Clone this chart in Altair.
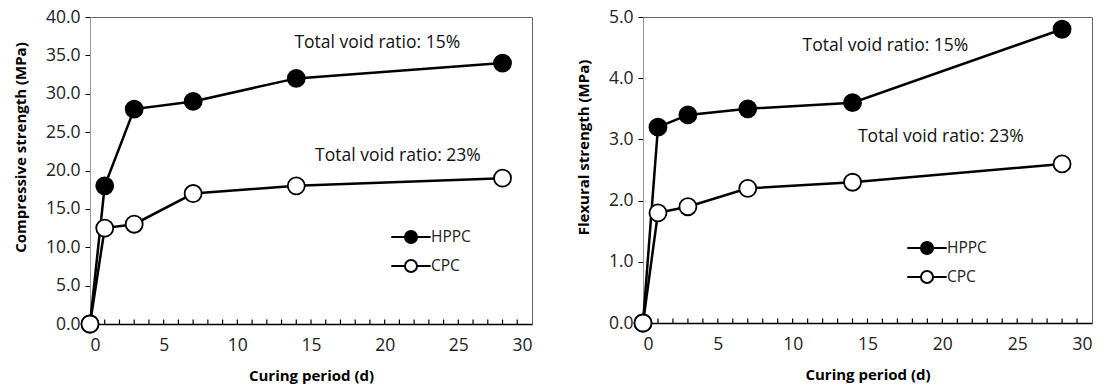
import altair as alt
import pandas as pd

# ---- data ----
days = [0, 1, 3, 7, 14, 28]
series = ["HPPC", "CPC"]
comp_hppc = [0.0, 18.0, 28.0, 29.0, 32.0, 34.0]
comp_cpc = [0.0, 12.5, 13.0, 17.0, 18.0, 19.0]
flex_hppc = [0.0, 3.2, 3.4, 3.5, 3.6, 4.8]
flex_cpc = [0.0, 1.8, 1.9, 2.2, 2.3, 2.6]

comp_notes = ["Total void ratio: 15%", "Total void ratio: 23%"]
comp_note_x = [19.5, 20.9]
comp_note_y = [36.6, 21.9]
flex_notes = ["Total void ratio: 15%", "Total void ratio: 23%"]
flex_note_x = [16.2, 19.9]
flex_note_y = [4.53, 3.04]

x_ticks = [0, 5, 10, 15, 20, 25, 30]
x_minor = list(range(1, 30))
comp_ticks = [0, 5, 10, 15, 20, 25, 30, 35, 40]
flex_ticks = [0, 1, 2, 3, 4, 5]

FONT = "Open Sans"
MINOR_LEN_PX = 4.5
LEGEND_PATH = ("M-1.8,0L-0.55,0M0.55,0L1.8,0"
               "M-0.55,0A0.55,0.55 0 1,0 0.55,0A0.55,0.55 0 1,0 -0.55,0Z")


def frame(values_a, values_b):
    rows = []
    for s, vals in zip(series, [values_a, values_b]):
        for d, v in zip(days, vals):
            rows.append({"day": d, "value": v, "series": s})
    return pd.DataFrame(rows)


def panel(df, notes, nx, ny, ymax, yticks, ytitle, w, h, title_y, legend_x, legend_y):
    xscale = alt.Scale(domain=[0, 30], nice=False)
    yscale = alt.Scale(domain=[0, ymax], nice=False)
    yaxis = alt.Axis(values=yticks, tickCount=len(yticks), format=".1f", title=ytitle,
                     grid=False, labelOverlap=False, tickSize=5, tickColor="black",
                     domainColor="#999", labelFontSize=17.5, labelPadding=5,
                     titleFontSize=15, titleFontWeight="bold", titlePadding=17,
                     titleY=title_y)
    xaxis = alt.Axis(values=x_ticks, tickCount=len(x_ticks), format="d",
                     title="Curing period (d)", grid=False, labelOverlap=False,
                     ticks=False, domainColor="black", domainWidth=1.5,
                     labelFontSize=17.5, labelPadding=12, titleFontSize=15,
                     titleFontWeight="bold", titlePadding=15)

    base = alt.Chart(df)
    lines = base.mark_line(color="black", strokeWidth=2.5).encode(
        x=alt.X("day:Q", scale=xscale, axis=xaxis),
        y=alt.Y("value:Q", scale=yscale, axis=yaxis),
        detail="series:N",
    )
    tick_top = ymax * MINOR_LEN_PX / h
    mdf = pd.DataFrame({"tick": x_minor, "base": [0.0] * len(x_minor),
                        "top": [tick_top] * len(x_minor)})
    minor = alt.Chart(mdf).mark_rule(color="black", strokeWidth=1.2).encode(
        x=alt.X("tick:Q", scale=xscale, axis=xaxis),
        y=alt.Y("base:Q", scale=yscale, axis=yaxis),
        y2="top:Q",
    )
    points = base.mark_point(filled=True, shape="circle", size=290, stroke="black",
                             strokeWidth=1.8, opacity=1).encode(
        x=alt.X("day:Q", scale=xscale, axis=xaxis),
        y=alt.Y("value:Q", scale=yscale, axis=yaxis),
        fill=alt.Fill("series:N", scale=alt.Scale(domain=series, range=["black", "white"]),
                      legend=alt.Legend(title=None, orient="none", legendX=legend_x,
                                        legendY=legend_y, symbolType=LEGEND_PATH,
                                        symbolSize=480, symbolStrokeColor="black",
                                        symbolStrokeWidth=2, labelFontSize=15.5,
                                        labelOffset=8, rowPadding=6, padding=0,
                                        labelFont=FONT, labelColor="#222")),
    )
    ndf = pd.DataFrame({"text": notes, "x": nx, "y": ny})
    texts = alt.Chart(ndf).mark_text(fontSize=17.5, font=FONT, color="#111").encode(
        x=alt.X("x:Q", scale=xscale, axis=xaxis),
        y=alt.Y("y:Q", scale=yscale, axis=yaxis),
        text="text:N",
    )
    return alt.layer(lines, minor, points, texts).properties(width=w, height=h)


left = panel(frame(comp_hppc, comp_cpc), comp_notes, comp_note_x, comp_note_y, 40,
             comp_ticks, "Compressive strength (MPa)", 442, 307, 130, 309, 208)
right = panel(frame(flex_hppc, flex_cpc), flex_notes, flex_note_x, flex_note_y, 5,
              flex_ticks, "Flexural strength (MPa)", 449, 306, 130, 272, 219)

chart = alt.hconcat(left, right, spacing=42).resolve_scale(fill="independent").configure(
    font=FONT,
    padding={"left": 12, "top": 7, "right": 5, "bottom": 5},
).configure_view(stroke="#666", strokeWidth=1).configure_axis(
    labelFont=FONT, titleFont=FONT, labelColor="#222", titleColor="black")

chart.save("out.html", embed_options={"renderer": "svg", "actions": False})
